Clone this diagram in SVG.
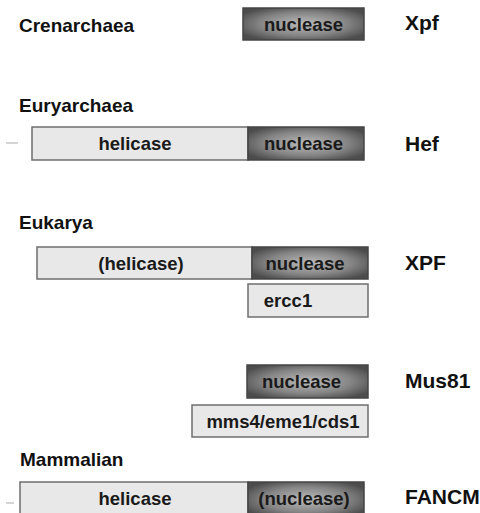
<svg xmlns="http://www.w3.org/2000/svg" width="480" height="513" viewBox="0 0 480 513">
<defs>
<radialGradient id="nuc" cx="0.5" cy="0.5" r="0.6">
<stop offset="0" stop-color="#bcbcbc"/>
<stop offset="0.6" stop-color="#858585"/>
<stop offset="1" stop-color="#4c4c4c"/>
</radialGradient>
</defs>
<style>
.lbl{font-family:"Liberation Sans",Arial,sans-serif;font-weight:bold;font-size:19px;fill:#111}
.name{font-family:"Liberation Sans",Arial,sans-serif;font-weight:bold;font-size:21px;fill:#111}
.dom{font-family:"Liberation Sans",Arial,sans-serif;font-weight:bold;font-size:18.5px;fill:#1a1a1a;text-anchor:middle}
.light{fill:#e8e8e8;stroke:#6e6e6e;stroke-width:1.5}
.dark{fill:url(#nuc);stroke:#444;stroke-width:1.5}
.dash{stroke:#aaa;stroke-width:1}
</style>
<g id="crenarchaea">
<text class="lbl" x="19" y="32">Crenarchaea</text>
<rect class="dark" x="243" y="8" width="121" height="32"/>
<text class="dom" x="303.5" y="31">nuclease</text>
<text class="name" x="405" y="30">Xpf</text>
</g>
<g id="euryarchaea">
<text class="lbl" x="19" y="112">Euryarchaea</text>
<line class="dash" x1="6" y1="143" x2="18" y2="143"/>
<rect class="light" x="32" y="127" width="216" height="33"/>
<rect class="dark" x="248" y="127" width="116" height="33"/>
<text class="dom" x="135" y="150">helicase</text>
<text class="dom" x="303.5" y="150">nuclease</text>
<text class="name" x="405" y="151">Hef</text>
</g>
<g id="eukarya">
<text class="lbl" x="19" y="229">Eukarya</text>
<rect class="light" x="37" y="247" width="215" height="32"/>
<rect class="dark" x="252" y="247" width="116" height="32"/>
<text class="dom" x="141" y="270">(helicase)</text>
<text class="dom" x="305" y="270">nuclease</text>
<text class="name" x="405" y="270">XPF</text>
<rect class="light" x="248" y="284" width="120" height="33"/>
<text class="dom" x="288" y="307">ercc1</text>
</g>
<g id="mus81">
<rect class="dark" x="247" y="365" width="121" height="33"/>
<text class="dom" x="301.5" y="388">nuclease</text>
<text class="name" x="405" y="388">Mus81</text>
<rect class="light" x="192" y="405" width="176" height="32"/>
<text class="dom" x="283" y="428">mms4/eme1/cds1</text>
</g>
<g id="mammalian">
<text class="lbl" x="20" y="466">Mammalian</text>
<line class="dash" x1="6" y1="503" x2="14" y2="503"/>
<rect class="light" x="20" y="482" width="228" height="35"/>
<rect class="dark" x="248" y="482" width="116" height="35"/>
<text class="dom" x="135" y="505">helicase</text>
<text class="dom" x="304" y="505">(nuclease)</text>
<text class="name" x="405" y="504">FANCM</text>
</g>
<g id="connectors"/>
</svg>
